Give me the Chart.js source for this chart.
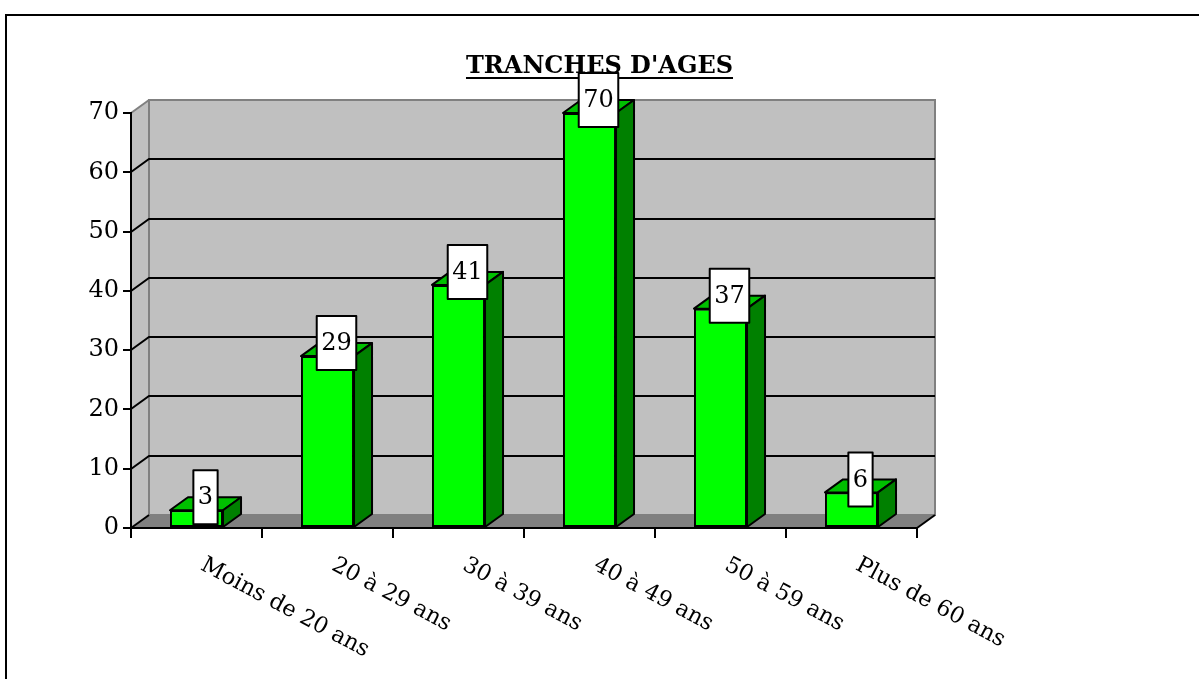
<!DOCTYPE html>
<html>
<head>
<meta charset="utf-8">
<script src="https://cdn.jsdelivr.net/npm/chart.js@4"></script>
<style>
  html, body { margin: 0; padding: 0; background: #ffffff; }
  #wrap { width: 1199px; height: 679px; }
</style>
</head>
<body>
<div id="wrap"><canvas id="c" width="1199" height="679"></canvas></div>
<script>
// ---- data ----
const chartTitle = "TRANCHES D'AGES";
const categories = ['Moins de 20 ans', '20 à 29 ans', '30 à 39 ans', '40 à 49 ans', '50 à 59 ans', 'Plus de 60 ans'];
const values = [3, 29, 41, 70, 37, 6];
const yMin = 0;
const yMax = 70;
const yStep = 10;

// ---- style ----
const DX = 18, DY = 13;
const FONT = 'DejaVu Serif';
const FSIZE = 24;
const XFSIZE = 22.5;
const WALL = '#c0c0c0', FLOOR = '#808080', EDGE = '#808080';
const FRONT = '#00ff00', TOP = '#00c000', SIDE = '#008000';

const threeD = {
  id: 'threeD',
  beforeDraw(chart) {
    const ctx = chart.ctx;
    const { left, right, top, bottom } = chart.chartArea;
    const ys = chart.scales.y;
    ctx.save();
    // outer frame
    ctx.strokeStyle = '#000'; ctx.lineWidth = 2;
    ctx.strokeRect(6, 15, chart.width + 20, chart.height + 20);
    // back wall
    ctx.fillStyle = WALL;
    ctx.fillRect(left + DX, top - DY, right - left, bottom - top);
    // side wall
    ctx.beginPath();
    ctx.moveTo(left, top); ctx.lineTo(left + DX, top - DY);
    ctx.lineTo(left + DX, bottom - DY); ctx.lineTo(left, bottom); ctx.closePath();
    ctx.fill();
    // floor
    ctx.fillStyle = FLOOR;
    ctx.beginPath();
    ctx.moveTo(left, bottom); ctx.lineTo(right, bottom);
    ctx.lineTo(right + DX, bottom - DY); ctx.lineTo(left + DX, bottom - DY); ctx.closePath();
    ctx.fill();
    // wall edges
    ctx.strokeStyle = EDGE; ctx.lineWidth = 2;
    ctx.strokeRect(left + DX, top - DY, right - left, bottom - top);
    ctx.beginPath(); ctx.moveTo(left, top); ctx.lineTo(left + DX, top - DY); ctx.stroke();
    // grid lines
    ctx.strokeStyle = '#000'; ctx.lineWidth = 2;
    for (const t of ys.ticks) {
      if (t.value >= yMax) continue;
      const y = Math.round(ys.getPixelForValue(t.value));
      ctx.beginPath();
      ctx.moveTo(left, y); ctx.lineTo(left + DX, y - DY);
      if (t.value > yMin) ctx.lineTo(right + DX, y - DY);
      ctx.stroke();
    }
    // floor right edge
    ctx.beginPath(); ctx.moveTo(right, bottom); ctx.lineTo(right + DX, bottom - DY); ctx.stroke();
    // title
    ctx.fillStyle = '#000';
    ctx.font = 'bold ' + FSIZE + 'px "' + FONT + '"';
    ctx.textAlign = 'center'; ctx.textBaseline = 'alphabetic';
    const cx = chart.width / 2;
    ctx.fillText(chartTitle, cx, 73);
    const tw = ctx.measureText(chartTitle).width;
    ctx.beginPath(); ctx.moveTo(cx - tw / 2, 78); ctx.lineTo(cx + tw / 2, 78); ctx.stroke();
    ctx.restore();
  },
  afterDatasetsDraw(chart) {
    const ctx = chart.ctx;
    const meta = chart.getDatasetMeta(0);
    ctx.save();
    ctx.lineWidth = 2; ctx.strokeStyle = '#000'; ctx.lineJoin = 'round';
    meta.data.forEach((el) => {
      const p = el.getProps(['x', 'y', 'base', 'width'], true);
      const l = p.x - p.width / 2, r = p.x + p.width / 2;
      // top face
      ctx.fillStyle = TOP;
      ctx.beginPath();
      ctx.moveTo(l, p.y); ctx.lineTo(r, p.y); ctx.lineTo(r + DX, p.y - DY); ctx.lineTo(l + DX, p.y - DY); ctx.closePath();
      ctx.fill(); ctx.stroke();
      // side face
      ctx.fillStyle = SIDE;
      ctx.beginPath();
      ctx.moveTo(r, p.y); ctx.lineTo(r + DX, p.y - DY); ctx.lineTo(r + DX, p.base - DY); ctx.lineTo(r, p.base); ctx.closePath();
      ctx.fill(); ctx.stroke();
    });
    // value labels
    ctx.font = FSIZE + 'px "' + FONT + '"';
    ctx.textAlign = 'center'; ctx.textBaseline = 'middle';
    meta.data.forEach((el, i) => {
      const p = el.getProps(['x', 'y'], true);
      const txt = String(values[i]);
      const w = ctx.measureText(txt).width + 9, h = 54;
      const cx = p.x + DX / 2, cy = p.y - DY;
      ctx.fillStyle = '#fff';
      ctx.fillRect(cx - w / 2, cy - h / 2, w, h);
      ctx.strokeRect(cx - w / 2, cy - h / 2, w, h);
      ctx.fillStyle = '#000';
      ctx.fillText(txt, cx, cy + 1);
    });
    ctx.restore();
  },
  afterDraw(chart) {
    const ctx = chart.ctx;
    const xs = chart.scales.x;
    ctx.save();
    ctx.font = XFSIZE + 'px "' + FONT + '"';
    ctx.fillStyle = '#000';
    ctx.textAlign = 'left'; ctx.textBaseline = 'top';
    categories.forEach((c, i) => {
      const x = xs.getPixelForValue(i);
      ctx.save();
      ctx.translate(x + 11, 554);
      ctx.rotate(28 * Math.PI / 180);
      ctx.fillText(c, 0, 0);
      ctx.restore();
    });
    ctx.restore();
  }
};

new Chart(document.getElementById('c'), {
  type: 'bar',
  data: {
    labels: categories,
    datasets: [{
      data: values,
      backgroundColor: FRONT,
      borderColor: '#000',
      borderWidth: 2,
      borderSkipped: false,
      categoryPercentage: 1,
      barPercentage: 0.405
    }]
  },
  options: {
    responsive: false,
    animation: false,
    layout: { padding: { top: 113, right: 282, bottom: 0, left: 0 } },
    plugins: { legend: { display: false }, tooltip: { enabled: false }, title: { display: false } },
    scales: {
      x: {
        offset: true,
        grid: { display: true, offset: true, drawOnChartArea: false, drawTicks: true, tickLength: 10, color: '#000', lineWidth: 2 },
        border: { display: true, color: '#000', width: 2 },
        ticks: { color: 'rgba(0,0,0,0)', maxRotation: 0, minRotation: 0, autoSkip: false, font: { family: FONT, size: XFSIZE } },
        afterFit(s) { s.height = 151; }
      },
      y: {
        min: yMin, max: yMax,
        grid: { display: true, drawOnChartArea: false, drawTicks: true, tickLength: 8, color: '#000', lineWidth: 2 },
        border: { display: true, color: '#000', width: 2 },
        ticks: { stepSize: yStep, color: '#000', padding: 4, font: { family: FONT, size: FSIZE } },
        afterFit(s) { s.width = 131; }
      }
    }
  },
  plugins: [threeD]
});
</script>
</body>
</html>
